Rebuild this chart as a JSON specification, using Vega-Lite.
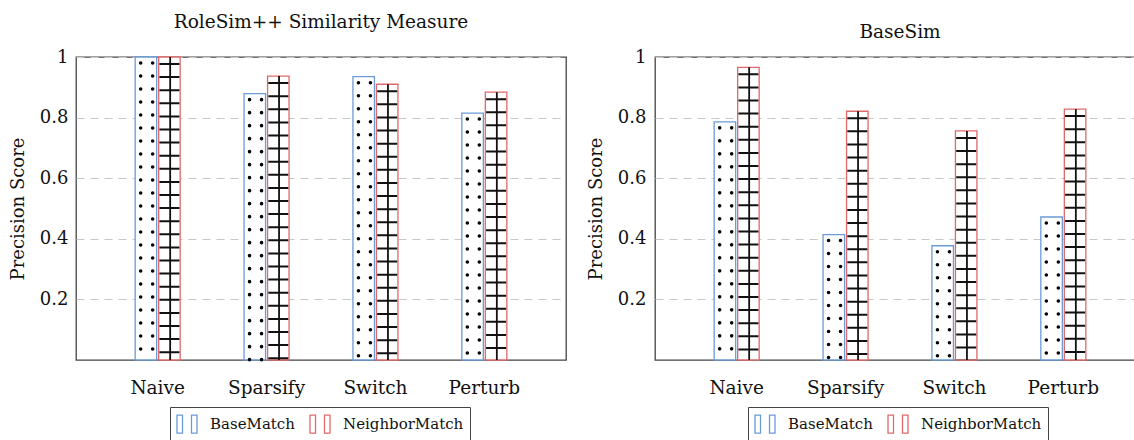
{
  "$schema": "https://vega.github.io/schema/vega-lite/v6.json",
  "padding": {"left": 8, "top": 11, "right": 0, "bottom": 0},
  "background": "white",
  "config": {
    "font": "DejaVu Serif",
    "view": {"stroke": "#444444", "strokeWidth": 1.3},
    "title": {"font": "DejaVu Serif", "fontWeight": "normal", "fontSize": 18.5, "color": "#111111", "anchor": "middle"},
    "legend": {"labelFont": "DejaVu Serif", "labelFontSize": 15, "labelColor": "#111111"}
  },
  "datasets": {
    "rolesim": [
      {"method": "Naive", "series": "BaseMatch", "value": 1.0},
      {"method": "Naive", "series": "NeighborMatch", "value": 1.0},
      {"method": "Sparsify", "series": "BaseMatch", "value": 0.879},
      {"method": "Sparsify", "series": "NeighborMatch", "value": 0.937},
      {"method": "Switch", "series": "BaseMatch", "value": 0.935},
      {"method": "Switch", "series": "NeighborMatch", "value": 0.91},
      {"method": "Perturb", "series": "BaseMatch", "value": 0.815},
      {"method": "Perturb", "series": "NeighborMatch", "value": 0.884}
    ],
    "basesim": [
      {"method": "Naive", "series": "BaseMatch", "value": 0.786},
      {"method": "Naive", "series": "NeighborMatch", "value": 0.966},
      {"method": "Sparsify", "series": "BaseMatch", "value": 0.414},
      {"method": "Sparsify", "series": "NeighborMatch", "value": 0.821},
      {"method": "Switch", "series": "BaseMatch", "value": 0.377},
      {"method": "Switch", "series": "NeighborMatch", "value": 0.756},
      {"method": "Perturb", "series": "BaseMatch", "value": 0.472},
      {"method": "Perturb", "series": "NeighborMatch", "value": 0.828}
    ]
  },
  "spacing": 19,
  "resolve": {"scale": {"stroke": "independent"}, "legend": {"stroke": "independent"}},
  "hconcat": [
    {
      "title": {"text": "RoleSim++ Similarity Measure", "baseline": "bottom", "offset": -3},
      "width": 490,
      "height": 303,
      "data": {"name": "rolesim"},
      "encoding": {
        "x": {"field": "method", "type": "nominal",
          "scale": {"domain": ["Naive", "Sparsify", "Switch", "Perturb"], "paddingInner": 0.5, "paddingOuter": 0.5},
          "axis": {"title": null, "labelFont": "DejaVu Serif", "labelFontSize": 18.5, "labelColor": "#111111", "labelPadding": 18, "labelAngle": 0, "domain": false, "ticks": false}}
      },
      "layer": [
        {
          "transform": [{"filter": "datum.series == 'BaseMatch'"}],
          "mark": {"type": "bar", "width": 21.5, "xOffset": -11.75, "fill": "white", "strokeWidth": 1.3},
          "encoding": {
            "y": {"field": "value", "type": "quantitative",
              "scale": {"domain": [0, 1], "nice": false},
              "axis": {"title": "Precision Score", "values": [0.2, 0.4, 0.6, 0.8, 1], "labelExpr": "datum.value == 1 ? '1' : format(datum.value, '.1f')",
                "labelFont": "DejaVu Serif", "labelFontSize": 18, "labelColor": "#111111", "labelPadding": 8,
                "titleFont": "DejaVu Serif", "titleFontSize": 18, "titleFontWeight": "normal", "titleColor": "#111111", "titlePadding": 12,
                "domain": false, "ticks": false, "grid": true, "gridDash": [8, 6], "gridColor": "#c8c8c8", "gridWidth": 1.2}},
            "stroke": {"field": "series", "type": "nominal",
              "scale": {"domain": ["BaseMatch", "NeighborMatch"], "range": ["#6b9bd6", "#e06a6a"]},
              "legend": {"orient": "none", "legendX": 94, "legendY": 350, "direction": "horizontal", "title": null,
                "symbolType": "M-1,-0.9H-0.45V0.9H-1Z M0.45,-0.9H1V0.9H0.45Z", "symbolSize": 400, "symbolFillColor": "white", "symbolStrokeWidth": 1.3,
                "labelOffset": 12, "columnPadding": 12,
                "strokeColor": "#444444", "fillColor": "white", "padding": 6}}
          }
        },
        {
          "transform": [{"filter": "datum.series == 'NeighborMatch'"}],
          "mark": {"type": "bar", "width": 21.5, "xOffset": 11.75, "fill": "white", "strokeWidth": 1.3},
          "encoding": {
            "y": {"field": "value", "type": "quantitative"},
            "stroke": {"field": "series", "type": "nominal"}
          }
        },
        {
          "transform": [{"filter": "datum.series == 'BaseMatch'"}],
          "mark": {"type": "rule", "xOffset": -17, "color": "black", "strokeWidth": 3.6, "strokeCap": "round", "strokeDash": [0, 13], "strokeDashOffset": -6},
          "encoding": {"y": {"field": "value", "type": "quantitative"}, "y2": {"datum": 0}}
        },
        {
          "transform": [{"filter": "datum.series == 'BaseMatch'"}],
          "mark": {"type": "rule", "xOffset": -5, "color": "black", "strokeWidth": 3.6, "strokeCap": "round", "strokeDash": [0, 13], "strokeDashOffset": -6},
          "encoding": {"y": {"field": "value", "type": "quantitative"}, "y2": {"datum": 0}}
        },
        {
          "transform": [{"filter": "datum.series == 'NeighborMatch'"}],
          "mark": {"type": "rule", "xOffset": 11.75, "color": "#111111", "strokeWidth": 20, "strokeCap": "butt", "strokeDash": [2, 11.1], "strokeDashOffset": -6},
          "encoding": {"y": {"field": "value", "type": "quantitative"}, "y2": {"datum": 0}}
        },
        {
          "transform": [{"filter": "datum.series == 'NeighborMatch'"}],
          "mark": {"type": "rule", "xOffset": 12.5, "color": "#111111", "strokeWidth": 1.8},
          "encoding": {"y": {"field": "value", "type": "quantitative"}, "y2": {"datum": 0}}
        }
      ]
    },
    {
      "title": {"text": "BaseSim", "baseline": "bottom", "offset": -12},
      "width": 490,
      "height": 303,
      "data": {"name": "basesim"},
      "encoding": {
        "x": {"field": "method", "type": "nominal",
          "scale": {"domain": ["Naive", "Sparsify", "Switch", "Perturb"], "paddingInner": 0.5, "paddingOuter": 0.5},
          "axis": {"title": null, "labelFont": "DejaVu Serif", "labelFontSize": 18.5, "labelColor": "#111111", "labelPadding": 18, "labelAngle": 0, "domain": false, "ticks": false}}
      },
      "layer": [
        {
          "transform": [{"filter": "datum.series == 'BaseMatch'"}],
          "mark": {"type": "bar", "width": 21.5, "xOffset": -11.75, "fill": "white", "strokeWidth": 1.3},
          "encoding": {
            "y": {"field": "value", "type": "quantitative",
              "scale": {"domain": [0, 1], "nice": false},
              "axis": {"title": "Precision Score", "values": [0.2, 0.4, 0.6, 0.8, 1], "labelExpr": "datum.value == 1 ? '1' : format(datum.value, '.1f')",
                "labelFont": "DejaVu Serif", "labelFontSize": 18, "labelColor": "#111111", "labelPadding": 9,
                "titleFont": "DejaVu Serif", "titleFontSize": 18, "titleFontWeight": "normal", "titleColor": "#111111", "titlePadding": 12,
                "domain": false, "ticks": false, "grid": true, "gridDash": [8, 6], "gridColor": "#c8c8c8", "gridWidth": 1.2}},
            "stroke": {"field": "series", "type": "nominal",
              "scale": {"domain": ["BaseMatch", "NeighborMatch"], "range": ["#6b9bd6", "#e06a6a"]},
              "legend": {"orient": "none", "legendX": 93, "legendY": 350, "direction": "horizontal", "title": null,
                "symbolType": "M-1,-0.9H-0.45V0.9H-1Z M0.45,-0.9H1V0.9H0.45Z", "symbolSize": 400, "symbolFillColor": "white", "symbolStrokeWidth": 1.3,
                "labelOffset": 12, "columnPadding": 12,
                "strokeColor": "#444444", "fillColor": "white", "padding": 6}}
          }
        },
        {
          "transform": [{"filter": "datum.series == 'NeighborMatch'"}],
          "mark": {"type": "bar", "width": 21.5, "xOffset": 11.75, "fill": "white", "strokeWidth": 1.3},
          "encoding": {
            "y": {"field": "value", "type": "quantitative"},
            "stroke": {"field": "series", "type": "nominal"}
          }
        },
        {
          "transform": [{"filter": "datum.series == 'BaseMatch'"}],
          "mark": {"type": "rule", "xOffset": -17, "color": "black", "strokeWidth": 3.6, "strokeCap": "round", "strokeDash": [0, 13], "strokeDashOffset": -6},
          "encoding": {"y": {"field": "value", "type": "quantitative"}, "y2": {"datum": 0}}
        },
        {
          "transform": [{"filter": "datum.series == 'BaseMatch'"}],
          "mark": {"type": "rule", "xOffset": -5, "color": "black", "strokeWidth": 3.6, "strokeCap": "round", "strokeDash": [0, 13], "strokeDashOffset": -6},
          "encoding": {"y": {"field": "value", "type": "quantitative"}, "y2": {"datum": 0}}
        },
        {
          "transform": [{"filter": "datum.series == 'NeighborMatch'"}],
          "mark": {"type": "rule", "xOffset": 11.75, "color": "#111111", "strokeWidth": 20, "strokeCap": "butt", "strokeDash": [2, 11.1], "strokeDashOffset": -6},
          "encoding": {"y": {"field": "value", "type": "quantitative"}, "y2": {"datum": 0}}
        },
        {
          "transform": [{"filter": "datum.series == 'NeighborMatch'"}],
          "mark": {"type": "rule", "xOffset": 12.5, "color": "#111111", "strokeWidth": 1.8},
          "encoding": {"y": {"field": "value", "type": "quantitative"}, "y2": {"datum": 0}}
        }
      ]
    }
  ]
}
